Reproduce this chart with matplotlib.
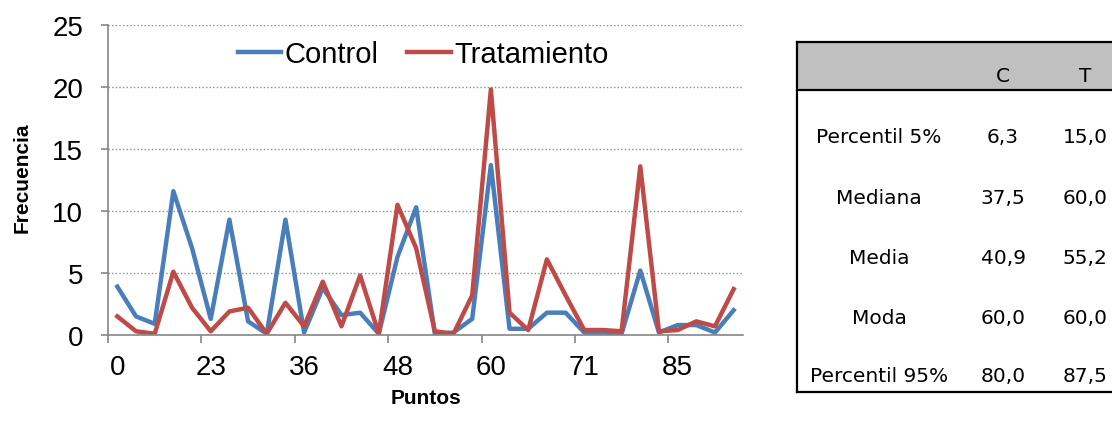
import matplotlib
matplotlib.use('Agg')
import matplotlib.pyplot as plt
from matplotlib.patches import Rectangle
from matplotlib.lines import Line2D
import numpy as np

plt.rcParams['font.family'] = ['Liberation Sans', 'DejaVu Sans']

# datos (34 categorias)
control = [3.9, 1.5, 0.9, 11.6, 7.0, 1.3, 9.3, 1.1, 0.1, 9.3, 0.2, 3.8,
           1.6, 1.8, 0.1, 6.3, 10.3, 0.1, 0.2, 1.3, 13.7, 0.5, 0.5, 1.8,
           1.8, 0.2, 0.2, 0.1, 5.2, 0.2, 0.8, 0.8, 0.2, 2.0]
tratamiento = [1.5, 0.3, 0.1, 5.1, 2.2, 0.3, 1.9, 2.2, 0.1, 2.6, 0.7, 4.3,
               0.7, 4.8, 0.1, 10.5, 7.0, 0.3, 0.1, 3.2, 19.8, 1.8, 0.4, 6.1,
               3.2, 0.4, 0.4, 0.3, 13.6, 0.3, 0.4, 1.1, 0.7, 3.7]
etiquetas_x = ['0', '23', '36', '48', '60', '71', '85']
yticks = [0, 5, 10, 15, 20, 25]

# tabla de estadisticos
filas = ['Percentil 5%', 'Mediana', 'Media', 'Moda', 'Percentil 95%']
col_c = ['6,3', '37,5', '40,9', '60,0', '80,0']
col_t = ['15,0', '60,0', '55,2', '60,0', '87,5']

W, H = 1112, 435
fig = plt.figure(figsize=(W / 100, H / 100), dpi=100)


def px(x, y):
    return x / W, 1 - y / H


ax = fig.add_axes([108 / W, 1 - 336 / H, (743 - 108) / W, (336 - 26) / H])

n = len(control)
x = np.arange(n)
ax.plot(x, control, color='#4a7ebb', lw=3.2, solid_joinstyle='round')
ax.plot(x, tratamiento, color='#be4b48', lw=3.2, solid_joinstyle='round')

ax.set_xlim(-0.5, n - 0.5)
ax.set_ylim(0, 25)
ax.set_yticks(yticks)
ax.yaxis.grid(True, color='#8c8c8c', lw=1.0, linestyle=(0, (1, 1.6)))
ax.set_axisbelow(True)

# ticks del eje x entre categorias, etiquetas cada 5
ax.set_xticks(np.arange(-0.5, n - 1, 5))
ax.set_xticklabels([])
ax.set_xticks(np.arange(0, n, 5), minor=True)
ax.set_xticklabels(etiquetas_x, minor=True)
ax.tick_params(axis='x', which='major', length=6, width=1.2, color='#868686')
ax.tick_params(axis='x', which='minor', length=0, pad=14, labelsize=20)
ax.tick_params(axis='y', length=5, width=1.2, color='#868686', pad=13, labelsize=20)

for s in ['top', 'right']:
    ax.spines[s].set_visible(False)
for s in ['left', 'bottom']:
    ax.spines[s].set_color('#868686')
    ax.spines[s].set_linewidth(1.2)

fig.text(*px(22, 178), 'Frecuencia', rotation=90, ha='center', va='center',
         fontsize=15, fontweight='bold')
fig.text(*px(426, 399), 'Puntos', ha='center', va='center',
         fontsize=15, fontweight='bold')

handles = [Line2D([], [], color='#4a7ebb', lw=3.2),
           Line2D([], [], color='#be4b48', lw=3.2)]
fig.legend(handles, ['Control', 'Tratamiento'], loc='center',
           bbox_to_anchor=px(423, 55), ncol=2, frameon=False, fontsize=21,
           handlelength=1.5, handletextpad=0.1, columnspacing=1.0)

# tabla
x0, x1 = 797, 1120
ytop, yhead, ybot = 43, 91, 393
fig.add_artist(Rectangle(px(x0, yhead), (x1 - x0) / W, (yhead - ytop) / H,
                         transform=fig.transFigure, facecolor='#c0c0c0',
                         edgecolor='none'))
for (xa, ya, xb, yb) in [(x0, ytop, x1, ytop), (x0, yhead, x1, yhead),
                         (x0, ybot, x1, ybot), (x0, ytop, x0, ybot)]:
    fig.add_artist(Line2D([xa / W, xb / W], [1 - ya / H, 1 - yb / H],
                          transform=fig.transFigure, color='black', lw=1.6))

tabla_font = dict(ha='center', va='center', fontsize=14.5, family='DejaVu Sans')
fig.text(*px(1003, 77), 'C', **tabla_font)
fig.text(*px(1085, 77), 'T', **tabla_font)
filas_y = [138, 199, 259, 318, 377]
for nombre, c, t, yy in zip(filas, col_c, col_t, filas_y):
    fig.text(*px(879, yy), nombre, **tabla_font)
    fig.text(*px(1003, yy), c, **tabla_font)
    fig.text(*px(1085, yy), t, **tabla_font)

fig.savefig('out.png', dpi=100)
